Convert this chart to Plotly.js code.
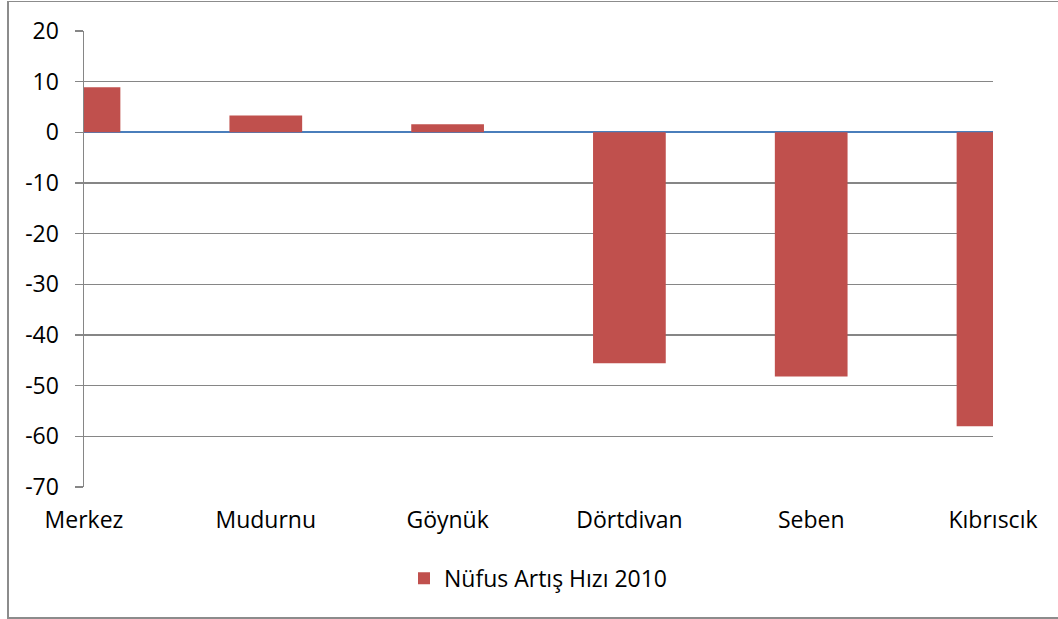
<!DOCTYPE html>
<html>
<head>
<meta charset="utf-8">
<script src="https://cdn.plot.ly/plotly-3.0.1.min.js"></script>
<style>
  html, body { margin: 0; padding: 0; background: #fff; }
  #wrap { position: relative; width: 1058px; height: 619px; overflow: hidden; }
  #chart { position: absolute; left: 0; top: 0; width: 1058px; height: 619px; }
  #frame { position: absolute; left: 7px; top: 1px; width: 1100px; height: 615px;
           border: 1px solid #8c8c8c; border-width: 1px 1px 2px 2px; pointer-events: none; }
</style>
</head>
<body>
<div id="wrap">
  <div id="chart"></div>
  <div id="frame"></div>
</div>
<script>
const categories = ["Merkez", "Mudurnu", "Göynük", "Dörtdivan", "Seben", "Kıbrıscık"];
const seriesName = "Nüfus Artış Hızı 2010";
const values = [8.9, 3.3, 1.6, -45.6, -48.2, -58.0];
const yTicks = [20, 10, 0, -10, -20, -30, -40, -50, -60, -70];

const FONT = "'Open Sans', 'Liberation Sans', Arial, sans-serif";

const trace = {
  type: "bar",
  x: categories,
  y: values,
  name: seriesName,
  width: 0.4,
  marker: { color: "#C0504D", line: { width: 0 } },
  showlegend: true
};

const layout = {
  width: 1058,
  height: 619,
  margin: { l: 84, r: 65, t: 31, b: 132 },
  paper_bgcolor: "rgba(0,0,0,0)",
  plot_bgcolor: "rgba(0,0,0,0)",
  font: { family: FONT, size: 23, color: "#000" },
  xaxis: {
    type: "category",
    range: [0, 5],
    showgrid: false,
    zeroline: false,
    showline: false,
    ticks: "",
    ticklabelstandoff: 17,
    tickfont: { family: FONT, size: 23, color: "#000" },
    fixedrange: true
  },
  yaxis: {
    range: [-70, 20],
    tickvals: yTicks,
    ticktext: yTicks.map(String),
    showgrid: true,
    gridcolor: "#868686",
    gridwidth: 1.5,
    zeroline: true,
    zerolinecolor: "#4A7EBB",
    zerolinewidth: 1.8,
    showline: true,
    linecolor: "#868686",
    linewidth: 1.5,
    ticks: "outside",
    ticklen: 8,
    tickcolor: "#868686",
    tickwidth: 1.5,
    ticklabelstandoff: 11,
    tickfont: { family: FONT, size: 23, color: "#000" },
    fixedrange: true
  },
  showlegend: true,
  legend: {
    orientation: "h",
    x: 0.5,
    xanchor: "center",
    y: -0.2,
    yanchor: "middle",
    font: { family: FONT, size: 23, color: "#000" },
    bgcolor: "rgba(0,0,0,0)"
  }
};

Plotly.newPlot("chart", [trace], layout, { displayModeBar: false, staticPlot: true });
</script>
</body>
</html>
